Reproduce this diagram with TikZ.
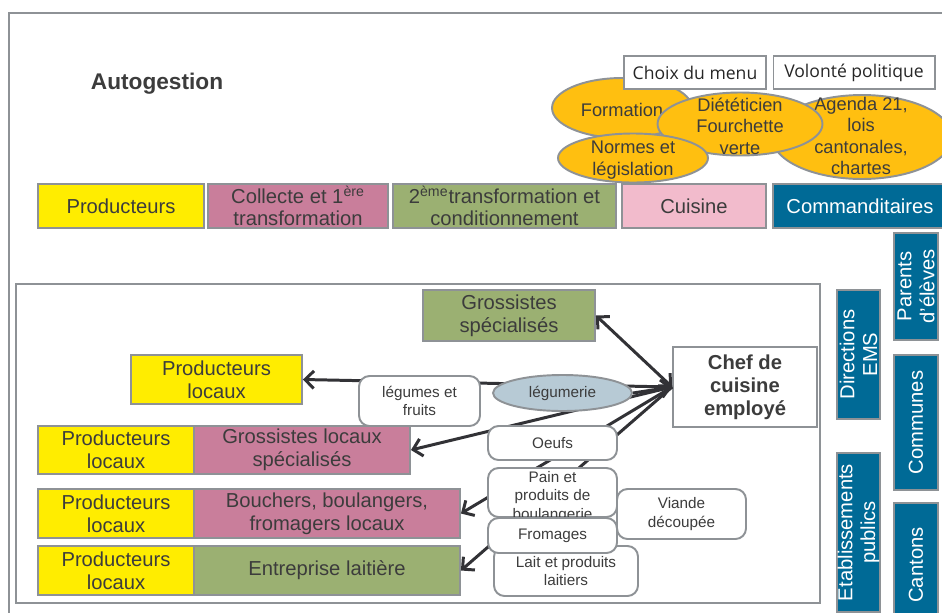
\documentclass[tikz,border=0pt]{standalone}
\usepackage{fontspec}
\setmainfont{Liberation Sans}
\newfontfamily\menufont{Open Sans}
\usetikzlibrary{arrows.meta,shapes.geometric}

\definecolor{txtc}{HTML}{3C3C3C}
\definecolor{linec}{HTML}{8E9296}
\definecolor{arrowc}{HTML}{323236}
\definecolor{yellowc}{HTML}{FFED00}
\definecolor{pinkc}{HTML}{C97E9B}
\definecolor{greenc}{HTML}{9BB072}
\definecolor{rosec}{HTML}{F2BBCC}
\definecolor{bluec}{HTML}{006A96}
\definecolor{orangec}{HTML}{FFBF10}
\definecolor{legc}{HTML}{B7CAD5}

\begin{document}
\begin{tikzpicture}[x=0.02cm, y=-0.02cm,
    every node/.style={text=txtc, align=center, font=\fontsize{11.5}{13}\selectfont},
    box/.style={draw=linec, line width=1.1pt, inner sep=1pt, minimum height=0.98cm},
    stage/.style={box, minimum height=0.88cm, inner ysep=0pt, font=\fontsize{11.5}{12.5}\selectfont},
    menu/.style={draw=linec, line width=0.6pt, fill=white, minimum height=0.66cm, inner sep=0pt,
      text=black!85, font=\menufont\fontsize{10}{12}\selectfont},
    blob/.style={ellipse, draw=linec, line width=1.1pt, fill=orangec, inner sep=0pt},
    blobtxt/.style={font=\fontsize{10.4}{12.3}\selectfont},
    tag/.style={draw=linec, line width=1.1pt, fill=white, rounded corners=6pt, inner sep=0pt,
      font=\fontsize{8.7}{10.3}\selectfont},
    tagtxt/.style={font=\fontsize{8.7}{10.3}\selectfont},
    client/.style={box, fill=bluec, text=white, rotate=90, inner sep=0pt},
    flow/.style={draw=arrowc, line width=1.7pt, -{Straight Barb[length=5pt,width=10pt]}},
    ]
  \clip (0,0) rectangle (942,612);
  \fill[white] (0,0) rectangle (942,612);
  % outer frame
  \draw[linec, line width=1.2pt] (9,630) |- (960,13);
  \node[font=\bfseries\fontsize{12.9}{15}\selectfont] (title) at (157,84) {Autogestion};

  % ellipses behind the top row
  \node[blob, minimum width=3.6cm, minimum height=1.68cm] (agenda) at (862,137) {};
  \node[blobtxt] (agendatxt) at (861,136) {Agenda 21,\\lois\\cantonales,\\chartes};
  \node[blob, minimum width=2.8cm, minimum height=1.2cm] (form) at (622,108) {};
  \node[blobtxt] (formtxt) at (622,110) {Formation};
  \node[blob, minimum width=3.3cm, minimum height=1.26cm] (diet) at (740,124) {};
  \node[blobtxt] (diettxt) at (740,126) {Diététicien\\Fourchette\\verte};
  \node[blob, minimum width=3.0cm, minimum height=0.98cm] (normes) at (633,158) {};
  \node[blobtxt] (normestxt) at (633,160) {Normes et\\législation};

  % menu and politics
  \node[menu, minimum width=2.84cm] (choix) at (695,72.5) {Choix du menu};
  \node[menu, minimum width=3.24cm] (volonte) at (854,72.5) {Volonté politique};

  % stages of the chain
  \node[stage, fill=yellowc, minimum width=3.32cm] (prod) at (121,206) {Producteurs};
  \node[stage, fill=pinkc, minimum width=3.6cm] (coll) at (298,206) {Collecte et 1\textsuperscript{ère}\\transformation};
  \node[stage, fill=greenc, minimum width=4.46cm] (trans) at (504.5,206) {2\textsuperscript{ème}transformation et\\conditionnement};
  \node[stage, fill=rosec, minimum width=2.88cm] (cuis) at (694,206) {Cuisine};
  \node[stage, fill=bluec, text=white, minimum width=3.48cm] (comm) at (860,206) {Commanditaires};

  % clients (rotated)
  \node[client, minimum width=2.14cm, minimum height=0.88cm] (parents) at (916,286.5) {Parents\\d'élèves};
  \node[client, minimum width=2.58cm, minimum height=0.86cm] (direct) at (858.5,354.5) {Directions\\EMS};
  \node[client, minimum width=2.7cm, minimum height=0.88cm] (communes) at (916,422.5) {Communes};
  \node[client, minimum width=3.18cm, minimum height=0.86cm] (etab) at (858.5,532.5) {Etablissements\\publics};
  \node[client, minimum width=2.48cm, minimum height=0.88cm] (cantons) at (916,565) {Cantons};

  % inner frame
  \draw[linec, line width=1.1pt] (16,284) rectangle (820,603);

  % suppliers
  \node[box, fill=greenc, minimum width=3.44cm, minimum height=1.02cm] (gs) at (509,315.5) {Grossistes\\spécialisés};
  \node[box, fill=yellowc, minimum width=3.42cm] (pl1) at (216.5,379.5) {Producteurs\\locaux};
  \node[box, fill=yellowc, minimum width=3.12cm, minimum height=0.96cm] (pl2) at (116,450) {Producteurs\\locaux};
  \node[box, fill=pinkc, minimum width=4.32cm, minimum height=0.96cm] (glsp) at (302,450) {Grossistes locaux\\spécialisés};
  \node[box, fill=yellowc, minimum width=3.12cm] (pl3) at (116,513.5) {Producteurs\\locaux};
  \node[box, fill=pinkc, minimum width=5.32cm] (bouch) at (327,513.5) {Bouchers, boulangers,\\fromagers locaux};
  \node[box, fill=yellowc, minimum width=3.12cm] (pl4) at (116,570.5) {Producteurs\\locaux};
  \node[box, fill=greenc, minimum width=5.32cm] (lait) at (327,570.5) {Entreprise laitière};

  % kitchen chef
  \node[box, fill=white, minimum width=2.88cm, minimum height=1.6cm, font=\bfseries\fontsize{11.5}{13}\selectfont] (chef) at (745,387) {Chef de\\cuisine\\employé};

  % flows
  \draw[flow, {Straight Barb[length=5pt,width=10pt]}-{Straight Barb[length=5pt,width=10pt]}] (chef.west) -- (gs.east);
  \draw[flow] (chef.west) -- (pl1.east);
  \draw[flow] (chef.west) -- (glsp.east);
  \draw[flow] (chef.west) -- (bouch.east);
  \draw[flow] (chef.west) -- (lait.east);

  % product labels
  \node[tag, minimum width=2.42cm, minimum height=1.0cm] (legfr) at (419.5,401) {légumes et\\fruits};
  \node[ellipse, draw=linec, line width=1.1pt, fill=legc, inner sep=0pt, minimum width=2.78cm, minimum height=0.72cm,
    font=\fontsize{8.7}{10.3}\selectfont] (legum) at (562.5,393) {légumerie};
  \draw[flow] (legum.east) -- (chef.west);
  \node[tag, minimum width=2.58cm, minimum height=1.0cm] (viande) at (681.5,514) {Viande\\découpée};
  \node[tag, minimum width=2.88cm, minimum height=1.0cm] (laitp) at (566,571) {Lait et produits\\laitiers};
  \node[tag, minimum width=2.58cm, minimum height=0.98cm] (pain) at (552.5,492.5) {};
  \node[tagtxt] (paintxt) at (552.5,497) {Pain et\\produits de\\boulangerie};
  \node[tag, minimum width=2.58cm, minimum height=0.70cm] (fromages) at (552.5,535.5) {Fromages};
  \node[tag, minimum width=2.58cm, minimum height=0.68cm] (oeufs) at (552.5,443) {Oeufs};
\end{tikzpicture}
\end{document}
